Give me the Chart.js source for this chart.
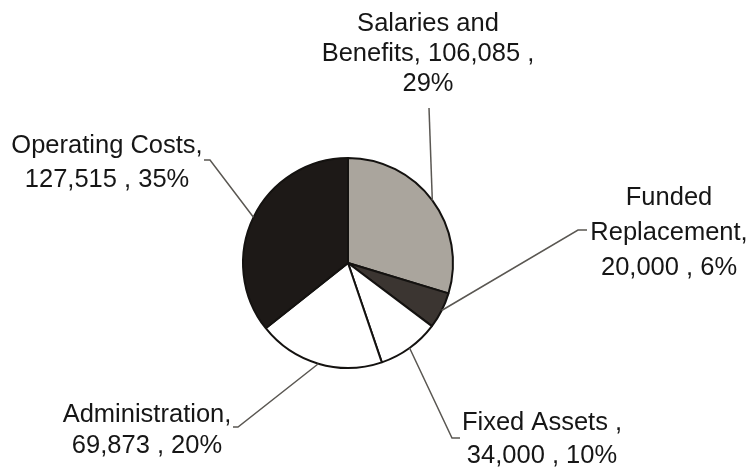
<!DOCTYPE html>
<html>
<head>
<meta charset="utf-8">
<script src="https://cdn.jsdelivr.net/npm/chart.js@4.4.1/dist/chart.umd.min.js"></script>
<style>
  html, body { margin: 0; padding: 0; background: #ffffff; }
  #wrap { width: 751px; height: 468px; position: relative; }
</style>
</head>
<body>
<div id="wrap"><canvas id="pie"></canvas></div>
<script>
// --- DATA ---
const categories = ['Salaries and Benefits', 'Funded Replacement', 'Fixed Assets', 'Administration', 'Operating Costs'];
const amounts = [106085, 20000, 34000, 69873, 127515];
const percents = [29, 6, 10, 20, 35];
const sliceColors = ['#aaa59d', '#3b3531', '#ffffff', '#ffffff', '#1d1917'];

// label text, wrapped the way the original shows it
const labelLines = [
    ['Salaries and', 'Benefits, 106,085 ,', '29%'],
    ['Funded', 'Replacement,', '20,000 , 6%'],
    ['Fixed Assets ,', '34,000 , 10%'],
    ['Administration,', '69,873 , 20%'],
    ['Operating Costs,', '127,515 , 35%']
];

// --- LABEL LAYOUT (text centre x, first baseline, line gap, leader end, hook) ---
const labelPlaces = [
    { x: 428, y: 31, gap: 30, end: [429, 108], hook: 0 },
    { x: 669, y: 205, gap: 35, end: [578, 230], hook: 9 },
    { x: 542, y: 430, gap: 33, end: [452, 438], hook: 8 },
    { x: 147, y: 422, gap: 31, end: [238, 427], hook: -5 },
    { x: 107, y: 153, gap: 34, end: [210, 160], hook: -6 }
];

const leaderLabels = {
    id: 'leaderLabels',
    afterDatasetsDraw(chart) {
        const ctx = chart.ctx;
        const arcs = chart.getDatasetMeta(0).data;
        ctx.save();
        arcs.forEach((arc, i) => {
            const p = labelPlaces[i];
            const mid = (arc.startAngle + arc.endAngle) / 2;
            const sx = arc.x + Math.cos(mid) * arc.outerRadius;
            const sy = arc.y + Math.sin(mid) * arc.outerRadius;

            ctx.strokeStyle = '#5a5752';
            ctx.lineWidth = 1.5;
            ctx.beginPath();
            ctx.moveTo(sx, sy);
            ctx.lineTo(p.end[0], p.end[1]);
            if (p.hook) ctx.lineTo(p.end[0] + p.hook, p.end[1]);
            ctx.stroke();

            ctx.fillStyle = '#161616';
            ctx.font = '25.5px "Liberation Sans", Arial, sans-serif';
            ctx.textAlign = 'center';
            ctx.textBaseline = 'alphabetic';
            labelLines[i].forEach((line, k) => {
                ctx.fillText(line, p.x, p.y + k * p.gap);
            });
        });
        ctx.restore();
    }
};

new Chart(document.getElementById('pie'), {
    type: 'pie',
    data: {
        labels: categories,
        datasets: [{
            data: amounts,
            backgroundColor: sliceColors,
            borderColor: '#141210',
            borderWidth: 2
        }]
    },
    options: {
        responsive: true,
        maintainAspectRatio: false,
        animation: false,
        layout: {
            padding: { left: 242, right: 297, top: 157, bottom: 99 }
        },
        plugins: {
            legend: { display: false },
            tooltip: { enabled: false }
        }
    },
    plugins: [leaderLabels]
});
</script>
</body>
</html>
